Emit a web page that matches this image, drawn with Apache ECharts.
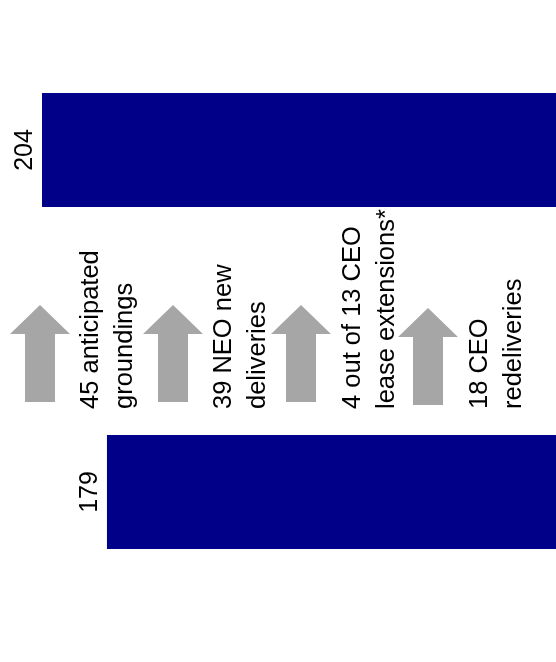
<!DOCTYPE html>
<html>
<head>
<meta charset="utf-8">
<style>
    html, body {margin: 0; padding: 0; background: #fff;}
    #chart-1 {width: 556px; height: 662px;}
</style>
</head>
<body>
<div id="chart-1"></div>
<script type="text/javascript" src="https://cdn.jsdelivr.net/npm/echarts@6/dist/echarts.min.js"></script>
<script type="text/javascript">
    // data
    var categories = ['Before', 'After'];
    var fleetCount = [204, 179];
    var notes = ['45 anticipated\ngroundings', '39 NEO new\ndeliveries', '4 out of 13 CEO\nlease extensions*', '18 CEO\nredeliveries'];

    // arrow + note layout (screen px)
    var arrowX = [40, 173, 301, 428];
    var arrowTop = [305, 305, 305, 308];
    var noteX = [74, 207, 336, 463];

    var myChart = echarts.init(document.getElementById('chart-1'));

    var graphics = [];
    for (var i = 0; i < notes.length; i++) {
        var cx = arrowX[i], t = arrowTop[i];
        graphics.push({
            type: 'polygon',
            shape: {
                points: [
                    [cx, t], [cx + 30, t + 29], [cx + 15, t + 29], [cx + 15, t + 97],
                    [cx - 15, t + 97], [cx - 15, t + 29], [cx - 30, t + 29]
                ]
            },
            style: {fill: '#a6a6a6'}
        });
        graphics.push({
            type: 'text',
            x: noteX[i],
            y: 409,
            rotation: Math.PI / 2,
            style: {
                text: notes[i],
                fill: '#000',
                font: '25.5px "Liberation Sans", Arial, sans-serif',
                lineHeight: 34,
                align: 'left',
                verticalAlign: 'top'
            }
        });
    }

    var option = {
        animation: false,
        grid: {left: 42, right: -16, top: -21, bottom: -1, outerBoundsMode: 'none'},
        xAxis: {type: 'value', inverse: true, min: 0, max: 204, show: false},
        yAxis: {type: 'category', inverse: true, data: categories, show: false},
        series: [{
            type: 'bar',
            barWidth: 114,
            itemStyle: {color: '#000088'},
            label: {
                show: true,
                position: 'left',
                distance: 4,
                rotate: 90,
                align: 'center',
                verticalAlign: 'bottom',
                color: '#000',
                fontSize: 25,
                fontFamily: 'Liberation Sans'
            },
            data: fleetCount
        }],
        graphic: graphics
    };
    myChart.setOption(option);
</script>
</body>
</html>
